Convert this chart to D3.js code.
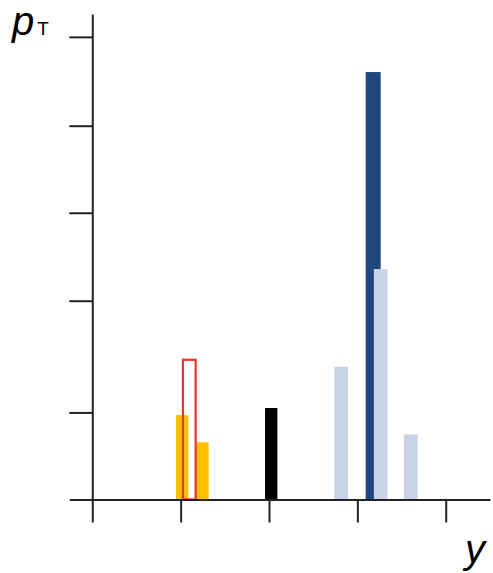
<!DOCTYPE html>
<html>
<head>
<meta charset="utf-8">
<script src="https://cdn.jsdelivr.net/npm/d3@7"></script>
<style>
  html, body { margin: 0; padding: 0; background: #fff; }
  svg { display: block; }
</style>
</head>
<body>
<svg id="chart" width="493" height="573"></svg>
<script>
// ---- data ----
const xTicks = [0, 1, 2, 3, 4];
const yTicks = [0.99, 2.26, 3.26, 4.25, 5.26];

const orangeX = [1.017, 1.247];
const orangeH = [0.96, 0.65];

const redX = [1.098];
const redH = [1.60];

const blackX = [2.025];
const blackH = [1.04];

const darkX = [3.179];
const darkH = [4.86];

const lightX = [2.817, 3.264, 3.604];
const lightH = [1.51, 2.62, 0.74];

const yLabel = "p";
const yLabelSub = "T";
const xLabel = "y";

// ---- layout ----
const svg = d3.select("#chart");
const x = d3.scaleLinear().domain([-0.26, 4.5]).range([69.3, 489.9]);
const y = d3.scaleLinear().domain([0, 5.52]).range([499.5, 14]);
const y0 = y(0);
const x0 = x(0);

const axisColor = "#222";

function bars(xs, hs, w, fill, cls) {
  const data = xs.map((v, i) => ({x: v, h: hs[i]}));
  svg.append("g").attr("class", cls)
    .selectAll("rect").data(data).join("rect")
    .attr("x", d => x(d.x - w / 2))
    .attr("width", d => x(d.x + w / 2) - x(d.x - w / 2))
    .attr("y", d => y(d.h))
    .attr("height", d => y0 - y(d.h))
    .attr("fill", fill);
}

bars(orangeX, orangeH, 0.14, "#FFC000", "orange");

// red outline bar
svg.append("g").attr("class", "red")
  .selectAll("rect").data(redX.map((v, i) => ({x: v, h: redH[i]}))).join("rect")
  .attr("x", d => x(d.x - 0.083) + 1)
  .attr("width", d => x(d.x + 0.083) - x(d.x - 0.083) - 2)
  .attr("y", d => y(d.h) + 1)
  .attr("height", d => y0 - y(d.h) - 1)
  .attr("fill", "none")
  .attr("stroke", "#E8332F")
  .attr("stroke-width", 2.2);

bars(blackX, blackH, 0.14, "#000000", "black");
bars(darkX, darkH, 0.17, "#1F477D", "dark");
bars(lightX, lightH, 0.155, "#C8D4E6", "light");

// axes
const xAxis = d3.axisBottom(x).tickValues(xTicks).tickSize(23).tickSizeOuter(0).tickFormat("");
const gx = svg.append("g").attr("transform", `translate(0,${y0})`).call(xAxis);
gx.select(".domain").attr("stroke", axisColor).attr("stroke-width", 2);
gx.selectAll(".tick line").attr("stroke", axisColor).attr("stroke-width", 2);

const yAxis = d3.axisLeft(y).tickValues(yTicks).tickSize(23).tickSizeOuter(0).tickFormat("");
const gy = svg.append("g").attr("transform", `translate(${x0},0)`).call(yAxis);
gy.select(".domain").attr("stroke", axisColor).attr("stroke-width", 2);
gy.selectAll(".tick line").attr("stroke", axisColor).attr("stroke-width", 2);

// labels
const lab = svg.append("text")
  .attr("x", 12).attr("y", 35)
  .attr("font-family", "Liberation Sans, Arial, sans-serif")
  .attr("fill", "#000");
lab.append("tspan").attr("font-size", 40).attr("font-style", "italic").text(yLabel);
lab.append("tspan").attr("font-size", 19).attr("dx", 3).text(yLabelSub);

svg.append("text")
  .attr("x", 465).attr("y", 563)
  .attr("font-family", "Liberation Sans, Arial, sans-serif")
  .attr("font-size", 40).attr("font-style", "italic")
  .attr("fill", "#000")
  .text(xLabel);
</script>
</body>
</html>
